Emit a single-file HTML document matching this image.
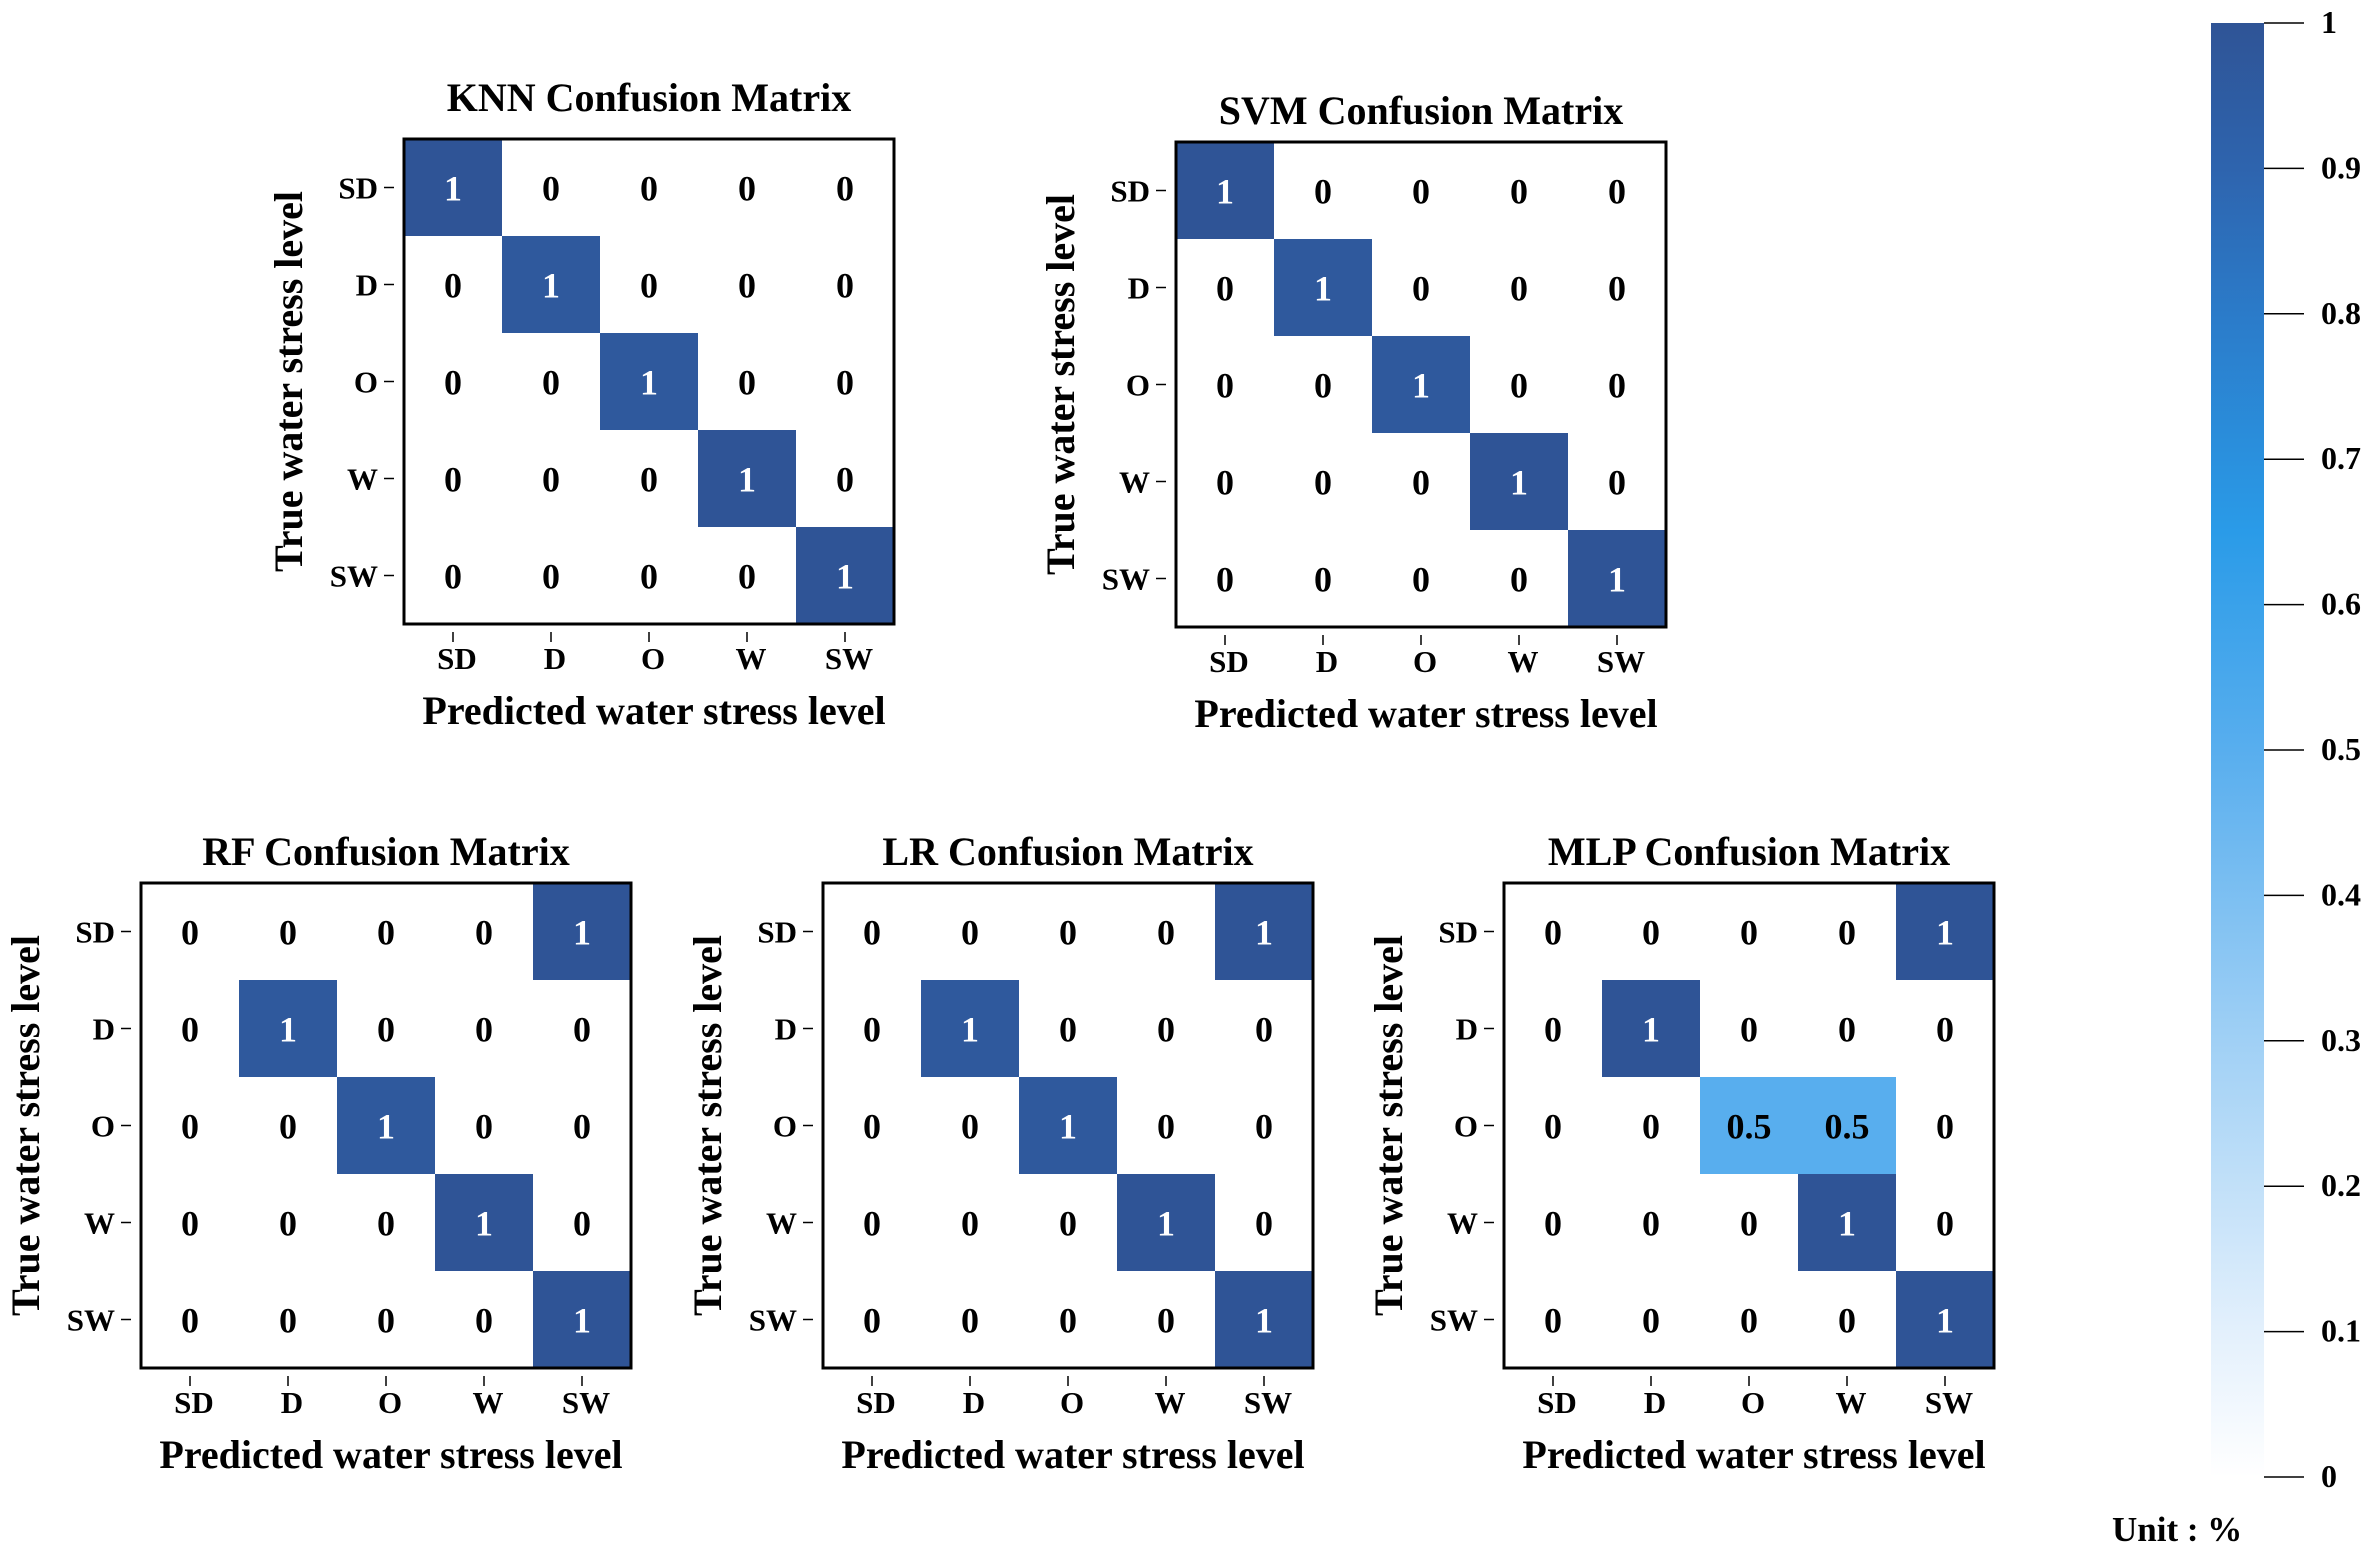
<!DOCTYPE html>
<html><head><meta charset="utf-8"><style>
html,body{margin:0;padding:0;background:#fff}
svg{display:block;font-family:"Liberation Serif",serif;font-weight:bold}
</style></head><body>
<svg id="fig" width="2371" height="1550" viewBox="0 0 2371 1550" xmlns="http://www.w3.org/2000/svg">
<defs>
<linearGradient id="cbg" x1="0" y1="1" x2="0" y2="0">
<stop offset="0" stop-color="#ffffff"/>
<stop offset="0.1" stop-color="#e3f0fc"/>
<stop offset="0.3" stop-color="#a0d0f5"/>
<stop offset="0.5" stop-color="#58aeee"/>
<stop offset="0.65" stop-color="#2a9be8"/>
<stop offset="0.8" stop-color="#2b7bc9"/>
<stop offset="0.9" stop-color="#2e64ae"/>
<stop offset="1" stop-color="#2f5496"/>
</linearGradient>
</defs>
</svg>
<script>
const classes = ['SD','D','O','W','SW'];
const knnValues = [[1,0,0,0,0],[0,0.97,0,0,0],[0,0,0.97,0,0],[0,0,0,1,0],[0,0,0,0,1]];
const svmValues = [[1,0,0,0,0],[0,0.97,0,0,0],[0,0,0.97,0,0],[0,0,0,1,0],[0,0,0,0,1]];
const rfValues = [[0,0,0,0,1],[0,0.97,0,0,0],[0,0,0.97,0,0],[0,0,0,1,0],[0,0,0,0,1]];
const lrValues = [[0,0,0,0,1],[0,0.97,0,0,0],[0,0,0.97,0,0],[0,0,0,1,0],[0,0,0,0,1]];
const mlpValues = [[0,0,0,0,1],[0,1,0,0,0],[0,0,0.5,0.5,0],[0,0,0,1,0],[0,0,0,0,1]];
const knnLabels = [['1','0','0','0','0'],['0','1','0','0','0'],['0','0','1','0','0'],['0','0','0','1','0'],['0','0','0','0','1']];
const rfLabels = [['0','0','0','0','1'],['0','1','0','0','0'],['0','0','1','0','0'],['0','0','0','1','0'],['0','0','0','0','1']];
const mlpLabels = [['0','0','0','0','1'],['0','1','0','0','0'],['0','0','0.5','0.5','0'],['0','0','0','1','0'],['0','0','0','0','1']];
const cbTicks = [0,0.1,0.2,0.3,0.4,0.5,0.6,0.7,0.8,0.9,1];
const cbTickLabels = ['0','0.1','0.2','0.3','0.4','0.5','0.6','0.7','0.8','0.9','1'];

const NS='http://www.w3.org/2000/svg';
const svg=document.getElementById('fig');
function mk(tag,attrs,parent){const e=document.createElementNS(NS,tag);for(const k in attrs)e.setAttribute(k,attrs[k]);(parent||svg).appendChild(e);return e;}
const stops=[[0,[255,255,255]],[0.1,[227,240,252]],[0.3,[160,208,245]],[0.5,[88,174,238]],[0.65,[42,155,232]],[0.8,[43,123,201]],[0.9,[46,100,174]],[1,[47,84,150]]];
function color(v){for(let i=1;i<stops.length;i++){if(v<=stops[i][0]){const a=stops[i-1],b=stops[i];const t=(v-a[0])/(b[0]-a[0]);const c=a[1].map((x,j)=>Math.round(x+(b[1][j]-x)*t));return 'rgb('+c.join(',')+')';}}return 'rgb(47,84,150)';}

const CW=98, CH=97;
function panel(name,title,left,top,vals,labels,titleGap){
  const g=mk('g',{});
  
  
  const xs=i=>left+i*CW, ys=i=>top+i*CH;
  for(let r=0;r<5;r++)for(let c=0;c<5;c++){
    const v=vals[r][c];
    const rc=mk('rect',{x:xs(c),y:ys(r),width:CW+0.5,height:CH+0.5,fill:color(v)},g);
    
    
    const t=mk('text',{x:xs(c)+CW/2,y:ys(r)+CH/2+13,'text-anchor':'middle','font-size':36,fill:v>0.6?'#fff':'#000'},g);
    
    
    t.textContent=labels[r][c];
  }
  const fr=mk('rect',{x:left,y:top,width:CW*5,height:CH*5,fill:'none',stroke:'#000','stroke-width':3},g);
  
  
  for(let i=0;i<5;i++){
    mk('line',{x1:left-20,x2:left-10,y1:ys(i)+CH/2,y2:ys(i)+CH/2,stroke:'#000','stroke-width':1.5},g);
    const yl=mk('text',{x:left-26,y:ys(i)+CH/2+11,'text-anchor':'end','font-size':31},g);
    
    
    yl.textContent=classes[i];
    mk('line',{x1:xs(i)+CW/2,x2:xs(i)+CW/2,y1:top+CH*5+8,y2:top+CH*5+18,stroke:'#000','stroke-width':1.5},g);
    const xl=mk('text',{x:xs(i)+CW/2+4,y:top+CH*5+45,'text-anchor':'middle','font-size':31},g);
    
    
    xl.textContent=classes[i];
  }
  const tt=mk('text',{x:left+CW*2.5,y:top-titleGap,'text-anchor':'middle','font-size':40},g);
  
  
  tt.textContent=title;
  const xt=mk('text',{x:left+CW*2.5+5,y:top+CH*5+100,'text-anchor':'middle','font-size':40},g);
  
  
  xt.textContent='Predicted water stress level';
  const cy=top+CH*2.5, cx=left-102;
  const yt=mk('text',{x:cx,y:cy,'text-anchor':'middle','font-size':40,transform:'rotate(-90 '+cx+' '+cy+')'},g);
  
  
  yt.textContent='True water stress level';
}
panel('knn','KNN Confusion Matrix',404,139,knnValues,knnLabels,28);
panel('svm','SVM Confusion Matrix',1176,142,svmValues,knnLabels,18);
panel('rf','RF Confusion Matrix',141,883,rfValues,rfLabels,18);
panel('lr','LR Confusion Matrix',823,883,lrValues,rfLabels,18);
panel('mlp','MLP Confusion Matrix',1504,883,mlpValues,mlpLabels,18);

// colorbar
const cbTop=23, cbBot=1477, cbL=2211, cbW=53;
const cbY=v=>cbBot-(cbBot-cbTop)*v;
const cb=mk('rect',{x:cbL,y:cbTop,width:cbW,height:cbBot-cbTop,fill:'url(#cbg)'});


cbTicks.forEach((v,i)=>{
  mk('line',{x1:cbL+cbW,x2:cbL+cbW+40,y1:cbY(v),y2:cbY(v),stroke:'#000','stroke-width':1.5});
  const t=mk('text',{x:2321,y:cbY(v)+10,'font-size':32});
  
  
  t.textContent=cbTickLabels[i];
});
const u=mk('text',{x:2112,y:1541,'font-size':35});


u.textContent='Unit : %';
</script>
</body></html>
